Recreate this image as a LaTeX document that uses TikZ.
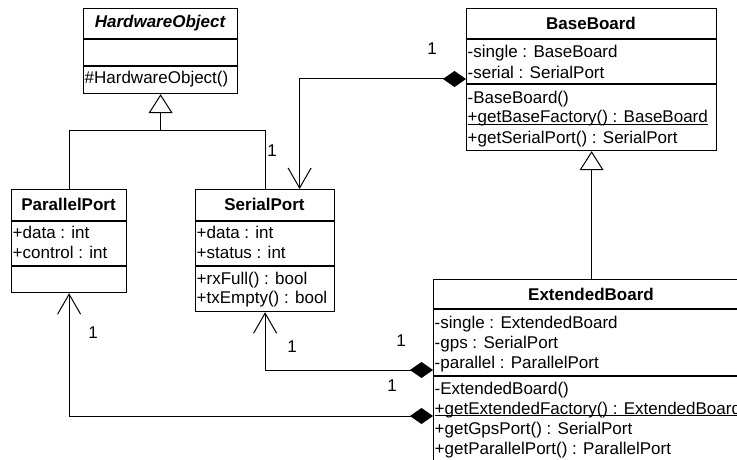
\documentclass[tikz,border=0pt]{standalone}
\usepackage{fontspec}
\setmainfont{Liberation Sans}
\usetikzlibrary{arrows.meta}
\newcommand\fs{\fontsize{17}{20}\selectfont}
\newcommand\statline[1]{\setbox0\hbox{#1}\rlap{\rule[-2pt]{\wd0}{0.9pt}}\box0}
\tikzset{
  cls/.style={draw, line width=1.2pt, inner sep=0pt, anchor=north west, fill=white},
  sepl/.style={line width=1.2pt},
  txt/.style={inner sep=0pt, anchor=base west, font=\fs},
  ttl/.style={inner sep=0pt, font=\fs\bfseries},
  lbl/.style={inner sep=0pt, font=\fs},
  inh/.style={line width=1pt, -{Triangle[open, length=19pt, width=24pt, line width=1pt]}},
  comp/.style={line width=1pt, {Diamond[length=23pt, width=16pt]}-{Straight Barb[length=20pt, width=23pt, line width=1pt]}}
}
\begin{document}
\begin{tikzpicture}[x=1pt, y=-1pt]
\useasboundingbox (0,0) rectangle (737,460);
\clip (0,0) rectangle (737,460);
\fill[white] (0,0) rectangle (737,460);

% HardwareObject
\node[cls, minimum width=154pt, minimum height=85pt] (ho) at (83,8) {};
\draw[sepl] ([yshift=-31pt]ho.north west) -- ([yshift=-31pt]ho.north east);
\draw[sepl] ([yshift=-58pt]ho.north west) -- ([yshift=-58pt]ho.north east);
\node[ttl, font=\fs\bfseries\itshape] (hot) at (160,23) {HardwareObject};
\node[txt] (hom1) at (84.5,84) {\#HardwareObject()};

% ParallelPort
\node[cls, minimum width=115pt, minimum height=103pt] (pp) at (11,189) {};
\draw[sepl] ([yshift=-32pt]pp.north west) -- ([yshift=-32pt]pp.north east);
\draw[sepl] ([yshift=-77pt]pp.north west) -- ([yshift=-77pt]pp.north east);
\node[ttl] (ppt) at (68.5,204) {ParallelPort};
\node[txt] (ppa1) at (12.5,238) {+data : int};
\node[txt] (ppa2) at (12.5,258) {+control : int};

% SerialPort
\node[cls, minimum width=139pt, minimum height=122pt] (sp) at (195,189) {};
\draw[sepl] ([yshift=-32pt]sp.north west) -- ([yshift=-32pt]sp.north east);
\draw[sepl] ([yshift=-77pt]sp.north west) -- ([yshift=-77pt]sp.north east);
\node[ttl] (spt) at (264.5,204) {SerialPort};
\node[txt] (spa1) at (196.5,238) {+data : int};
\node[txt] (spa2) at (196.5,258) {+status : int};
\node[txt] (spm1) at (196.5,284) {+rxFull() : bool};
\node[txt] (spm2) at (196.5,303) {+txEmpty() : bool};

% BaseBoard
\node[cls, minimum width=250pt, minimum height=142pt] (bb) at (466,8) {};
\draw[sepl] ([yshift=-31pt]bb.north west) -- ([yshift=-31pt]bb.north east);
\draw[sepl] ([yshift=-76pt]bb.north west) -- ([yshift=-76pt]bb.north east);
\node[ttl] (bbt) at (591,23) {BaseBoard};
\node[txt] (bba1) at (467.5,58) {-single : BaseBoard};
\node[txt] (bba2) at (467.5,78) {-serial : SerialPort};
\node[txt] (bbm1) at (467.5,103) {-BaseBoard()};
\node[txt] (bbm2) at (467.5,123) {\statline{+getBaseFactory() : BaseBoard}};
\node[txt] (bbm3) at (467.5,143) {+getSerialPort() : SerialPort};

% ExtendedBoard
\node[cls, minimum width=316pt, minimum height=185pt] (eb) at (433,279) {};
\draw[sepl] ([yshift=-30pt]eb.north west) -- ([yshift=-30pt]eb.north east);
\draw[sepl] ([yshift=-97pt]eb.north west) -- ([yshift=-97pt]eb.north east);
\node[ttl] (ebt) at (591,294) {ExtendedBoard};
\node[txt] (eba1) at (434.5,328) {-single : ExtendedBoard};
\node[txt] (eba2) at (434.5,348) {-gps : SerialPort};
\node[txt] (eba3) at (434.5,368) {-parallel : ParallelPort};
\node[txt] (ebm1) at (434.5,394) {-ExtendedBoard()};
\node[txt] (ebm2) at (434.5,414) {\statline{+getExtendedFactory() : ExtendedBoard}};
\node[txt] (ebm3) at (434.5,434) {+getGpsPort() : SerialPort};
\node[txt] (ebm4) at (434.5,454) {+getParallelPort() : ParallelPort};

% Generalisations
\draw[inh] (pp.north) |- ([yshift=-36pt]ho.south) -- (ho.south);
\draw[line width=1pt] (sp.north) |- ([yshift=-36pt]ho.south);
\draw[inh] (eb.north) -- (bb.south);

% Compositions
\draw[comp] ([yshift=-71pt]bb.north west) -| ([xshift=34.5pt]sp.north);
\draw[comp] ([yshift=-91pt]eb.north west) -| (sp.south);
\draw[comp] ([yshift=-137pt]eb.north west) -| (pp.south);

% Multiplicities
\node[lbl] (m1) at (432,49) {1};
\node[lbl] (m2) at (272,151) {1};
\node[lbl] (m3) at (93,333) {1};
\node[lbl] (m4) at (292,347) {1};
\node[lbl] (m5) at (401,341) {1};
\node[lbl] (m6) at (392,386) {1};
\end{tikzpicture}
\end{document}
